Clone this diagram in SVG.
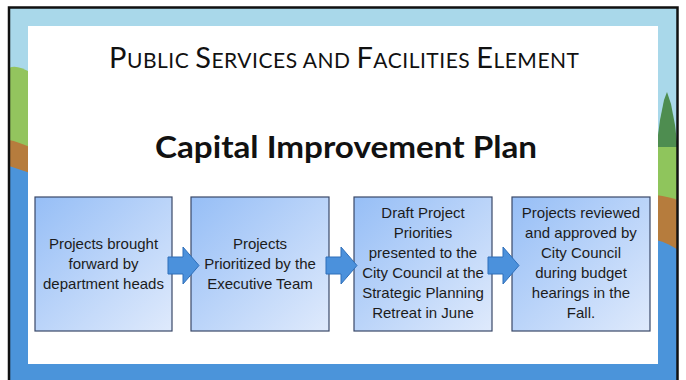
<svg xmlns="http://www.w3.org/2000/svg" width="686" height="380" viewBox="0 0 686 380">
<defs>
<linearGradient id="boxGrad" x1="0" y1="0" x2="1" y2="1">
<stop offset="0" stop-color="#96bef6"/>
<stop offset="1" stop-color="#dfeafc"/>
</linearGradient>
<style>
.box{fill:url(#boxGrad);stroke:#3a4868;stroke-width:1.2}
.lbl{font-family:"Liberation Sans",Arial,sans-serif;font-size:15px;fill:#1c1c1c;text-anchor:middle}
.arrow{fill:#4b91dc;stroke:#2f6fb9;stroke-width:1}
.title{font-family:Lato,"Liberation Sans",sans-serif;fill:#111}
</style>
</defs>
<rect x="0" y="0" width="686" height="380" fill="#ffffff"/>
<g id="background">
<rect x="9" y="7" width="669" height="373" fill="#a9d8ea"/>
<path d="M9,68 C15,65 22,68 30,72 L30,150 L9,142 Z" fill="#93c45e"/>
<path d="M9,140 C15,141 22,144 30,147 L30,178 L9,170 Z" fill="#b67c3d"/>
<path d="M9,166 C15,168 22,170 30,173 L30,380 L9,380 Z" fill="#4b94da"/>
<path d="M656,150 L660,120 L664,100 L667,92 L671,104 L675,125 L678,150 Z" fill="#4e8d50"/>
<path d="M656,147 L678,147 L678,200 L656,196 Z" fill="#8fc55c"/>
<path d="M656,195 C665,196 672,198 678,200 L678,252 L656,242 Z" fill="#b67c3d"/>
<path d="M656,240 C665,242 672,246 678,250 L678,380 L656,380 Z" fill="#4b94da"/>
<rect x="9" y="362" width="669" height="18" fill="#4b94da"/>
<rect x="28" y="26" width="630" height="338" fill="#ffffff"/>
<rect x="9" y="7.5" width="668.5" height="390" fill="none" stroke="#111" stroke-width="2.5"/>
</g>
<g id="title">
<text class="title" x="344" y="68" text-anchor="middle" textLength="470" lengthAdjust="spacing"><tspan font-size="29">P</tspan><tspan font-size="21">UBLIC </tspan><tspan font-size="29">S</tspan><tspan font-size="21">ERVICES AND </tspan><tspan font-size="29">F</tspan><tspan font-size="21">ACILITIES </tspan><tspan font-size="29">E</tspan><tspan font-size="21">LEMENT</tspan></text>
</g>
<g id="subtitle">
<text class="title" x="346" y="158" text-anchor="middle" font-size="30" font-weight="bold" textLength="382" lengthAdjust="spacingAndGlyphs">Capital Improvement Plan</text>
</g>
<g id="node1">
<rect class="box" x="35" y="197" width="137" height="134"/>
<text class="lbl" x="103.5" y="249">Projects brought</text>
<text class="lbl" x="103.5" y="269">forward by</text>
<text class="lbl" x="103.5" y="289">department heads</text>
</g>
<g id="node2">
<rect class="box" x="191" y="197" width="138" height="134"/>
<text class="lbl" x="260" y="249">Projects</text>
<text class="lbl" x="260" y="269">Prioritized by the</text>
<text class="lbl" x="260" y="289">Executive Team</text>
</g>
<g id="node3">
<rect class="box" x="354" y="197" width="138" height="134"/>
<text class="lbl" x="423" y="218">Draft Project</text>
<text class="lbl" x="423" y="238">Priorities</text>
<text class="lbl" x="423" y="258">presented to the</text>
<text class="lbl" x="423" y="278">City Council at the</text>
<text class="lbl" x="423" y="298">Strategic Planning</text>
<text class="lbl" x="423" y="318">Retreat in June</text>
</g>
<g id="node4">
<rect class="box" x="512" y="197" width="138" height="134"/>
<text class="lbl" x="581" y="218">Projects reviewed</text>
<text class="lbl" x="581" y="238">and approved by</text>
<text class="lbl" x="581" y="258">City Council</text>
<text class="lbl" x="581" y="278">during budget</text>
<text class="lbl" x="581" y="298">hearings in the</text>
<text class="lbl" x="581" y="318">Fall.</text>
</g>
<g id="connectors">
<polygon class="arrow" points="168,257 183,257 183,247 199,265.5 183,284 183,274 168,274"/>
<polygon class="arrow" points="326,257 341,257 341,247 357,265.5 341,284 341,274 326,274"/>
<polygon class="arrow" points="488,257 503,257 503,247 519,265.5 503,284 503,274 488,274"/>
</g>
</svg>
